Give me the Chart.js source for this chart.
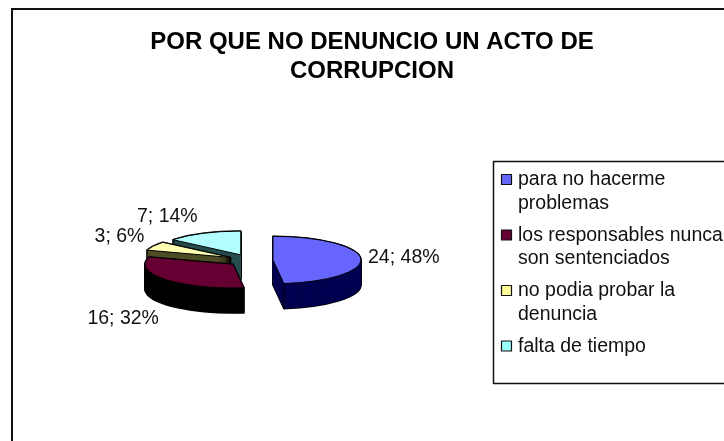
<!DOCTYPE html>
<html><head><meta charset="utf-8">
<style>html,body{margin:0;padding:0;background:#fff;width:724px;height:441px;overflow:hidden}canvas{display:block}</style>
<script src="https://cdn.jsdelivr.net/npm/chart.js@4/dist/chart.umd.min.js"></script>
</head><body>
<canvas id="c" width="744" height="470"></canvas>
<script>
const titleLines = ['POR QUE NO DENUNCIO UN ACTO DE', 'CORRUPCION'];
const categories = ['para no hacerme problemas', 'los responsables nunca son sentenciados', 'no podia probar la denuncia', 'falta de tiempo'];
const values = [24, 16, 3, 7];
const topColors = ['#6666FF', '#660033', '#FFFFB3', '#B3FFFF'];
const sideColors = ['#000050', '#000000', '#4D4D26', '#264D4D'];
const swatchColors = ['#6666FF', '#660033', '#FFFF99', '#99FFFF'];
const labelNudges = [[43, -1], [-42, 14], [-34, -9], [-36, -17]];

const TILT = 0.27, DEPTH = 25, EXPLODE = 22.6, FONT = "19.5px 'Liberation Sans', Arial, sans-serif";

function geom(el) {
  const mid = (el.startAngle + el.endAngle) / 2;
  return { cx: el.x + Math.cos(mid) * EXPLODE, cy: el.y + Math.sin(mid) * EXPLODE, mid };
}
function slicePath(ctx, el, depth) {
  const g = geom(el), sy = el.y + (g.cy - el.y) * TILT + depth, r = el.outerRadius;
  ctx.beginPath();
  ctx.moveTo(g.cx, sy);
  ctx.ellipse(g.cx, sy, r, r * TILT, 0, el.startAngle, el.endAngle);
  ctx.closePath();
}
const pie3d = {
  id: 'pie3d',
  install(chart) {
    Chart.layouts.addBox(chart, {
      position: 'right', weight: 0, fullSize: false, options: {}, width: 243.2, height: 0,
      isHorizontal() { return false; },
      update(w, h) { this.width = 243.2; this.height = h; },
      draw() {}
    });
  },
  beforeDraw(chart) {
    const ctx = chart.ctx;
    ctx.save();
    ctx.fillStyle = '#fff';
    ctx.fillRect(0, 0, chart.width, chart.height);
    ctx.strokeStyle = '#111';
    ctx.lineWidth = 2;
    ctx.strokeRect(12, 9, 720, 470);
    ctx.restore();
  },
  beforeDatasetDraw(chart) {
    const ctx = chart.ctx, arcs = chart.getDatasetMeta(0).data;
    // side walls, back to front
    ctx.save();
    for (const i of [3, 2, 1, 0]) {
      const el = arcs[i];
      ctx.strokeStyle = '#000'; ctx.lineWidth = 1.6; ctx.lineJoin = 'round';
      for (let d = DEPTH; d >= 0; d--) { slicePath(ctx, el, d); ctx.stroke(); }
      ctx.fillStyle = sideColors[i];
      for (let d = DEPTH; d >= 0; d--) { slicePath(ctx, el, d); ctx.fill(); }
      const g = geom(el), north = Math.sin(el.endAngle);
      if (north > 0) {
        const px = g.cx + el.outerRadius * Math.cos(el.endAngle);
        const py = el.y + (g.cy - el.y) * TILT + el.outerRadius * TILT * north;
        ctx.lineWidth = 1;
        ctx.beginPath(); ctx.moveTo(px, py); ctx.lineTo(px, py + DEPTH); ctx.stroke();
      }
    }
    ctx.restore();
    // top faces, drawn by the library's arc elements under the tilt
    arcs.forEach(el => {
      const g = geom(el);
      ctx.save();
      ctx.translate(0, el.y); ctx.scale(1, TILT); ctx.translate(0, -el.y);
      ctx.translate(g.cx - el.x, g.cy - el.y);
      el.draw(ctx);
      ctx.restore();
    });
    ctx.save();
    ctx.strokeStyle = '#000'; ctx.lineWidth = 1; ctx.lineJoin = 'round';
    arcs.forEach(el => { slicePath(ctx, el, 0); ctx.stroke(); });
    // data labels
    const total = values.reduce((a, b) => a + b, 0);
    ctx.fillStyle = '#111'; ctx.font = FONT; ctx.textAlign = 'center'; ctx.textBaseline = 'middle';
    arcs.forEach((el, i) => {
      const g = geom(el), r = el.outerRadius;
      const x = g.cx + r * Math.cos(g.mid) + labelNudges[i][0];
      const y = el.y + (g.cy - el.y) * TILT + r * TILT * Math.sin(g.mid) + labelNudges[i][1] + (Math.sin(g.mid) > 0 ? DEPTH : 0);
      ctx.fillText(values[i] + '; ' + Math.round(values[i] / total * 100) + '%', x, y);
    });
    // legend
    ctx.strokeStyle = '#111'; ctx.lineWidth = 1.5;
    ctx.strokeRect(493.5, 161.5, 260, 222);
    ctx.textAlign = 'left';
    let y = 180;
    categories.forEach((cat, i) => {
      const lines = [];
      let cur = '';
      for (const w of cat.split(' ')) {
        const t = cur ? cur + ' ' + w : w;
        if (ctx.measureText(t).width > 212 && cur) { lines.push(cur); cur = w; } else cur = t;
      }
      lines.push(cur);
      ctx.fillStyle = swatchColors[i];
      ctx.fillRect(501.5, y - 5.5, 10, 10);
      ctx.lineWidth = 1.2; ctx.strokeRect(501.5, y - 5.5, 10, 10);
      ctx.fillStyle = '#111';
      lines.forEach((ln, k) => ctx.fillText(ln, 518, y + k * 23.5));
      y += (lines.length - 1) * 23.5 + 32;
    });
    ctx.restore();
    return false;
  }
};
new Chart(document.getElementById('c'), {
  type: 'pie',
  data: { labels: categories, datasets: [{ data: values, backgroundColor: topColors, borderWidth: 0, radius: 88 }] },
  options: {
    responsive: false, animation: false,
    layout: { padding: { left: 0, right: 0, top: 0, bottom: 34.8 } },
    plugins: {
      legend: { display: false }, tooltip: { enabled: false },
      title: { display: true, text: titleLines, color: '#000', font: { family: "'Liberation Sans', Arial, sans-serif", size: 24, weight: 'bold', lineHeight: 1.2 }, padding: { top: 28, bottom: 0 } }
    }
  },
  plugins: [pie3d]
});
</script>
</body></html>
